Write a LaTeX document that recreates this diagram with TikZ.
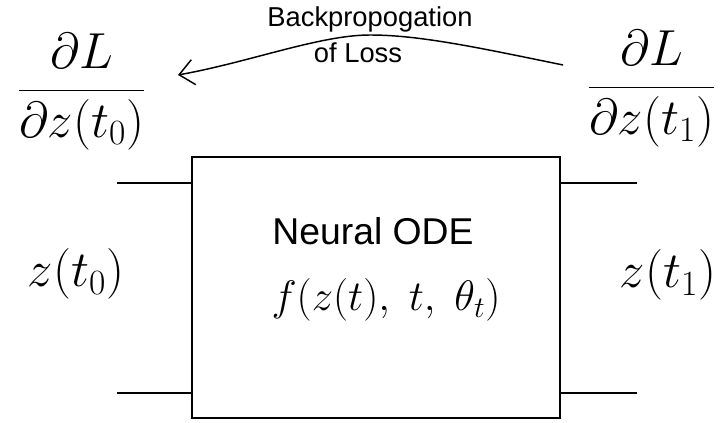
\RequirePackage{fix-cm}
\documentclass[tikz,border=0pt]{standalone}
\usepackage{fontspec}
\setmainfont{Liberation Sans}
\usetikzlibrary{arrows.meta}
\begin{document}
\begin{tikzpicture}[x=0.75pt,y=-0.75pt,
  lbl/.style={inner sep=0pt,font=\fontsize{20.5}{24}\selectfont},
  mathbig/.style={inner sep=0pt,anchor=base,font=\fontsize{38}{44}\selectfont},
  blockbox/.style={draw,line width=1.5pt,minimum width=368*0.75pt,minimum height=261*0.75pt,inner sep=0pt},
  wire/.style={line width=1.5pt},
  backarrow/.style={line width=1.1pt,-{Straight Barb[length=11pt,width=19pt,line width=1.1pt]}}]
\useasboundingbox (0,0) rectangle (722,423);
% block
\node[blockbox] (box) at (376,287.5) {};
\node[inner sep=0pt,anchor=base,font=\fontsize{28}{32}\selectfont] (title) at (373,245) {Neural ODE};
\node[inner sep=0pt,anchor=base,font=\fontsize{32}{36}\selectfont] (func) at (386,311) {$f(z(t),\;t,\;\theta_t)$};
% wires
\coordinate (lt) at (117,183);
\coordinate (lb) at (117,393);
\coordinate (rt) at (637,183);
\coordinate (rb) at (637,393);
\draw[wire] (lt) -- (lt -| box.west);
\draw[wire] (lb) -- (lb -| box.west);
\draw[wire] (rt) -- (rt -| box.east);
\draw[wire] (rb) -- (rb -| box.east);
% states
\node[mathbig] (z0) at (76,287) {$z(t_0)$};
\node[mathbig] (z1) at (668,288) {$z(t_1)$};
% gradients
\node[mathbig] (g0) at (81.5,102.5) {$\displaystyle\frac{\partial L}{\partial z(t_0)}$};
\node[mathbig] (g1) at (651.5,99.5) {$\displaystyle\frac{\partial L}{\partial z(t_1)}$};
% backprop arrow
\coordinate (as) at (563,65);
\coordinate (am) at (370,35);
\coordinate (at) at (178,75);
\draw[backarrow] (as) .. controls (480,48) and (420,35) .. (am) .. controls (320,35) and (250,62) .. (at);
\node[lbl,anchor=base] (bp1) at (370,27) {Backpropogation};
\node[lbl,anchor=base] (bp2) at (358,63) {of Loss};
\end{tikzpicture}
\end{document}
